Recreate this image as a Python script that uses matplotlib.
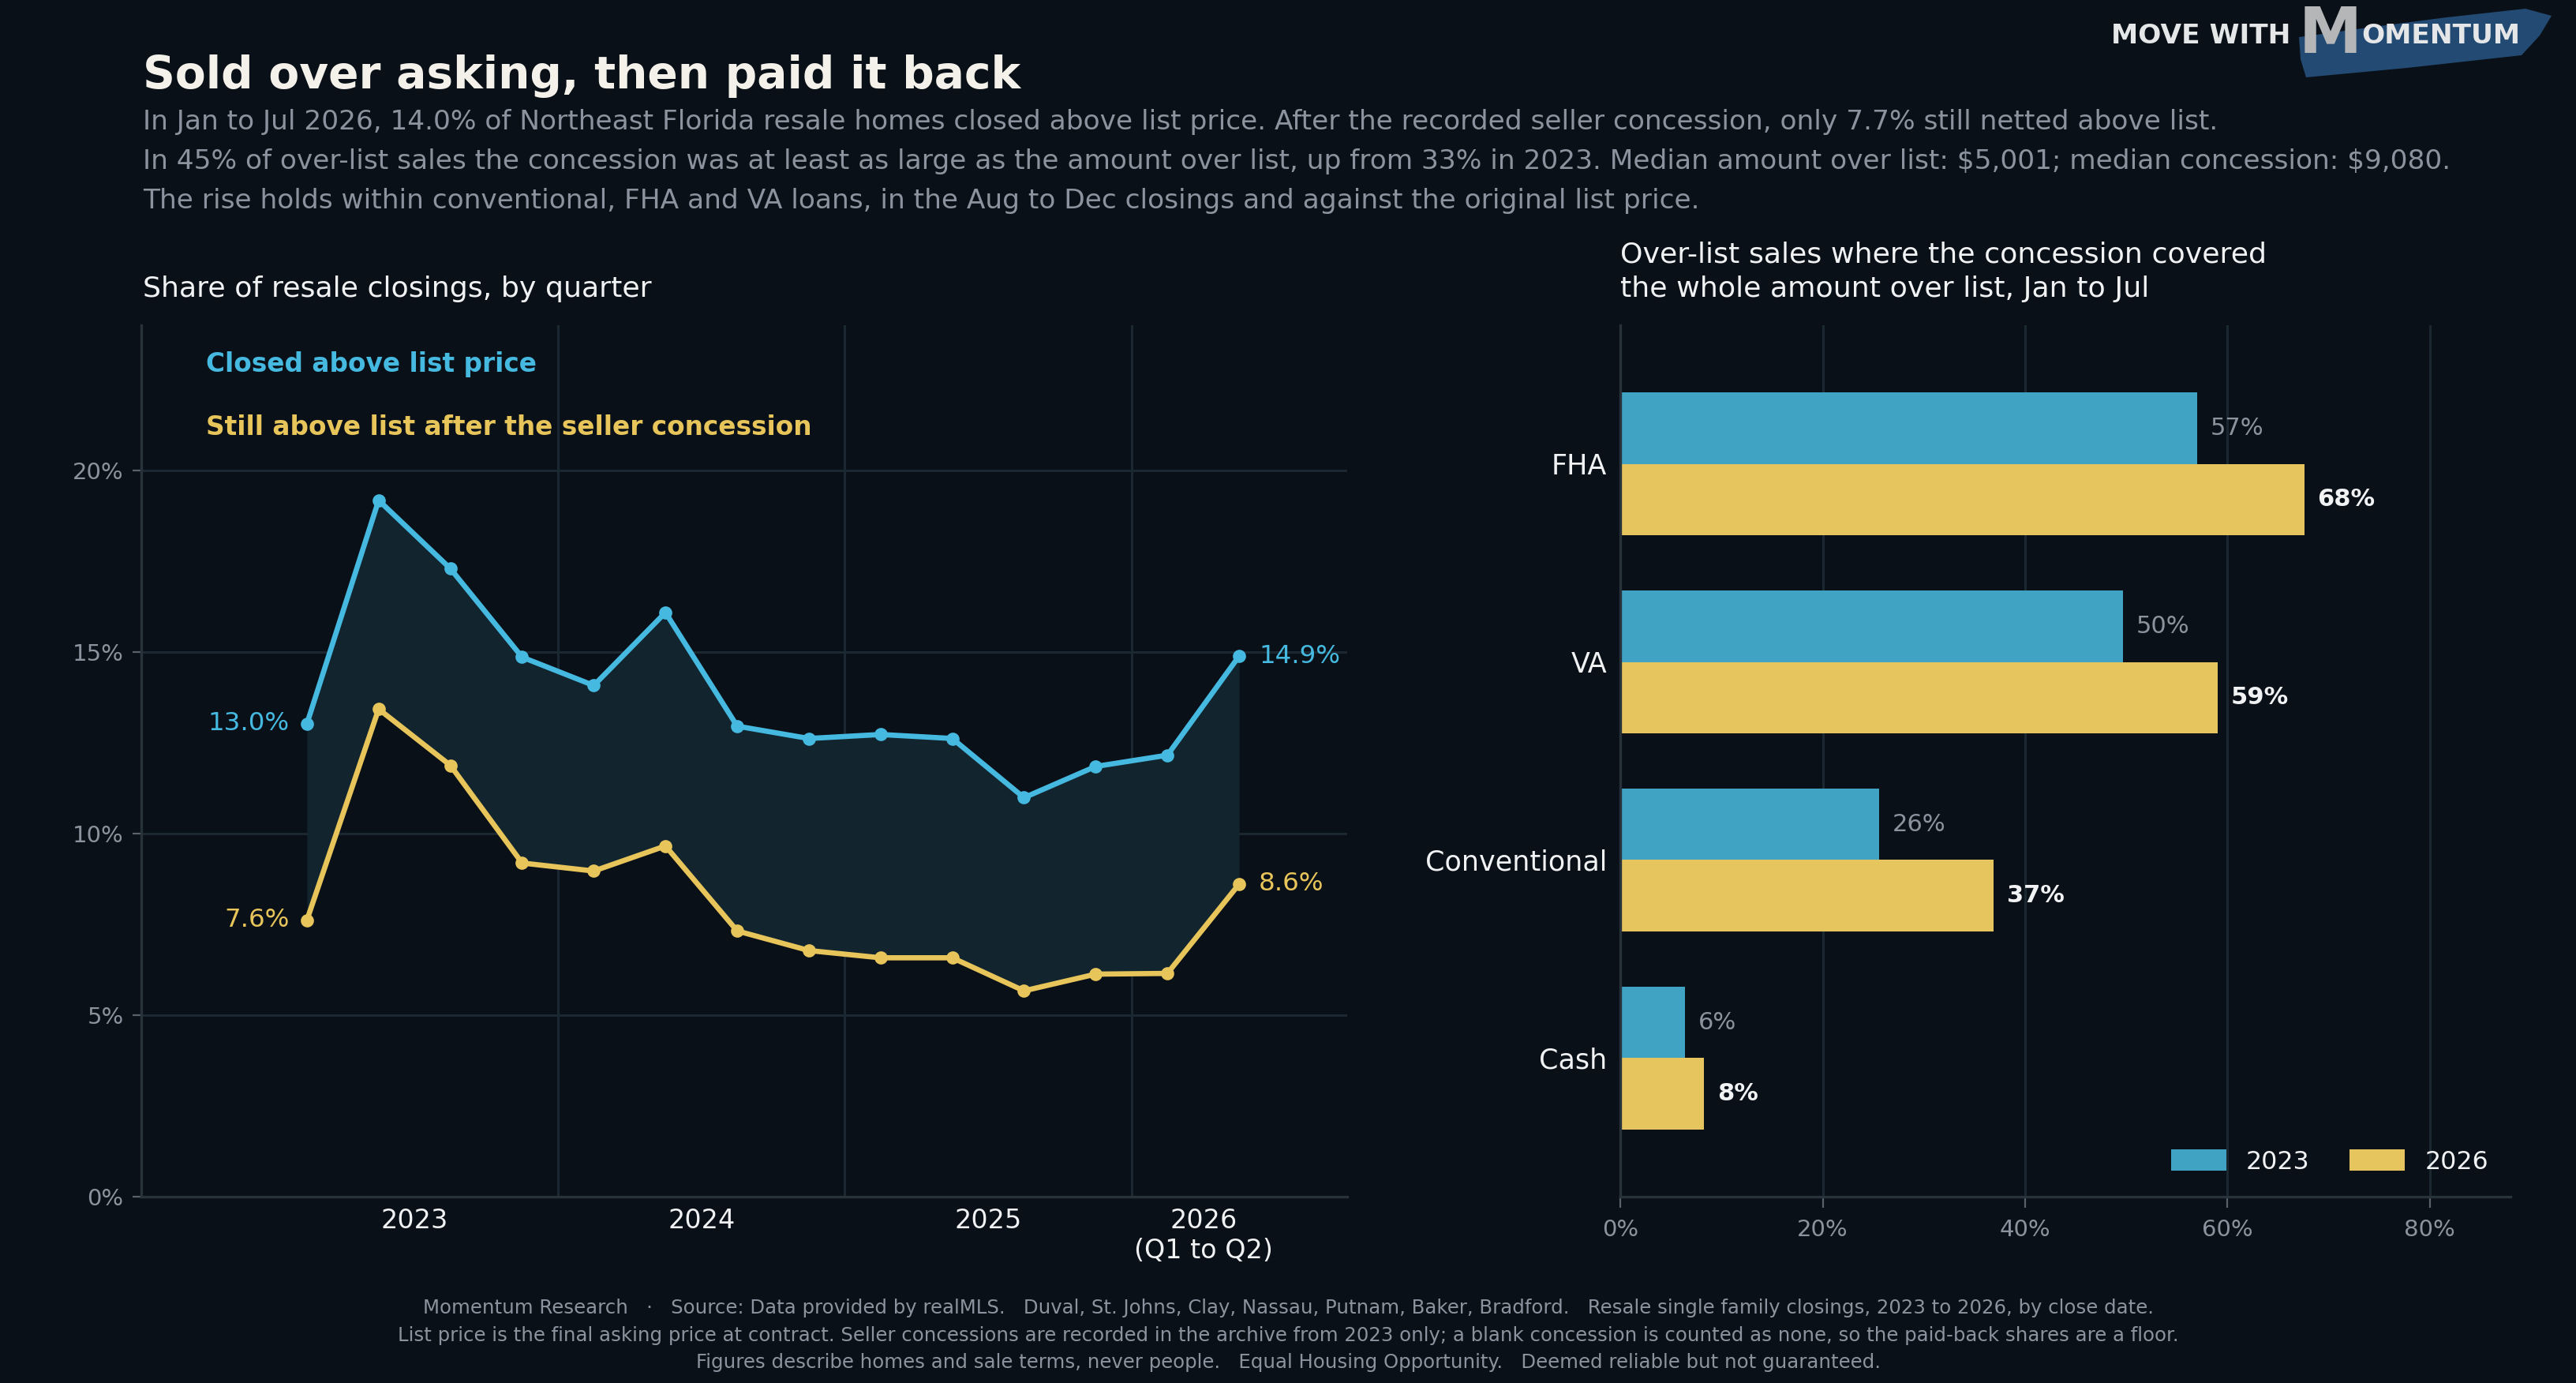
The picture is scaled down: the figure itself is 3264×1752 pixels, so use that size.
# Sold over asking, then paid it back
# Over-list share by quarter + concession coverage by loan type

import matplotlib.pyplot as plt
from matplotlib.patches import Polygon

# quarterly series, 2023 Q1 .. 2026 Q2
quarters = [2023 + (i + 0.5) / 4 for i in range(14)]
above_list = [13.03, 19.18, 17.30, 14.86, 14.08, 16.09, 12.96,
              12.62, 12.73, 12.62, 10.99, 11.85, 12.16, 14.89]
after_concession = [7.62, 13.43, 11.88, 9.19, 8.97, 9.66, 7.32,
                    6.78, 6.58, 6.58, 5.67, 6.13, 6.15, 8.61]
year_ticks = [2023.5, 2024.5, 2025.5, 2026.25]
year_labels = ["2023", "2024", "2025", "2026\n(Q1 to Q2)"]
year_bounds = [2024, 2025, 2026]

# concession covered the whole amount over list, Jan to Jul
loan_types = ["FHA", "VA", "Conventional", "Cash"]
covered_2023 = [57.0, 49.7, 25.6, 6.4]
covered_2026 = [67.6, 59.0, 36.9, 8.3]

BG = "#0a1017"
BLUE = "#45b9e0"
YELLOW = "#e8c55a"
BAR_BLUE = "#41a3c3"
BAR_YELLOW = "#e6c45e"
FILL = "#12252f"
GRID = "#1c2831"
SPINE = "#27323b"
TICK = "#59616a"
GRAY = "#8b949e"
WHITE = "#f0f2f4"
TITLE = "#f3f1ea"

plt.rcParams["font.family"] = ["DejaVu Sans"]

fig = plt.figure(figsize=(16.32, 8.76), dpi=200, facecolor=BG)

# ---- headline
fig.text(0.0555, 0.936, "Sold over asking, then paid it back", color=TITLE,
         fontsize=20.4, fontweight="bold", va="baseline")
subtitle = [
    "In Jan to Jul 2026, 14.0% of Northeast Florida resale homes closed above list price. "
    "After the recorded seller concession, only 7.7% still netted above list.",
    "In 45% of over-list sales the concession was at least as large as the amount over list, "
    "up from 33% in 2023. Median amount over list: \\$5,001; median concession: \\$9,080.",
    "The rise holds within conventional, FHA and VA loans, in the Aug to Dec closings "
    "and against the original list price.",
]
for k, line in enumerate(subtitle):
    fig.text(0.0555, 0.912 - k * 0.0285, line, color=GRAY, fontsize=12.4, va="center")

# ---- logo (top right), brush outline in pixels from the top-left corner
brush_px = [(2913, 47), (3000, 35), (3100, 22), (3200, 11), (3233, 20), (3218, 45),
            (3195, 70), (3050, 86), (2922, 98), (2915, 75)]
brush = Polygon([(x, 1752 - y) for x, y in brush_px], closed=True, transform=None,
                facecolor="#234a72", edgecolor="none")
fig.patches.append(brush)
fig.text(0.8195, 0.9743, "MOVE WITH", color="#e4e6e8", fontsize=12.4,
         fontweight="bold", va="center", ha="left")
fig.text(0.9047, 0.9743, "M", color="#b4b6b8", fontsize=29, fontweight="bold",
         va="center", ha="center")
fig.text(0.9167, 0.9743, "OMENTUM", color="#e4e6e8", fontsize=12.4,
         fontweight="bold", va="center", ha="left")

# ---- left panel: share of resale closings
ax = fig.add_axes([0.0548, 0.1347, 0.4682, 0.6301], facecolor=BG)
ax.fill_between(quarters, after_concession, above_list, color=FILL, lw=0, zorder=1)
ax.plot(quarters, above_list, color=BLUE, lw=2.4, marker="o", ms=5, zorder=3)
ax.plot(quarters, after_concession, color=YELLOW, lw=2.4, marker="o", ms=5, zorder=3)

ax.set_xlim(2022.547, 2026.752)
ax.set_ylim(0, 24)
ax.set_yticks([0, 5, 10, 15, 20])
ax.set_yticklabels([f"{v}%" for v in [0, 5, 10, 15, 20]])
ax.set_xticks(year_ticks)
ax.set_xticklabels(year_labels)
ax.set_xticks(year_bounds, minor=True)
ax.tick_params(axis="x", which="both", length=0, colors=WHITE, labelsize=12, pad=5)
ax.tick_params(axis="y", length=4, color=TICK, labelcolor=GRAY, labelsize=10.5, pad=4)
ax.grid(axis="y", color=GRID, lw=1.1)
ax.grid(axis="x", which="minor", color=GRID, lw=1.1)
ax.set_axisbelow(True)
for side in ["top", "right"]:
    ax.spines[side].set_visible(False)
for side in ["left", "bottom"]:
    ax.spines[side].set_color(SPINE)
    ax.spines[side].set_linewidth(1.2)

ax.text(0.054, 0.955, "Closed above list price", transform=ax.transAxes,
        color=BLUE, fontsize=11.8, fontweight="bold", va="center")
ax.text(0.054, 0.883, "Still above list after the seller concession", transform=ax.transAxes,
        color=YELLOW, fontsize=11.8, fontweight="bold", va="center")

for series, col in [(above_list, BLUE), (after_concession, YELLOW)]:
    ax.annotate(f"{series[0]:.1f}%", (quarters[0], series[0]), xytext=(-8, 0),
                textcoords="offset points", ha="right", va="center", color=col, fontsize=11.7)
    ax.annotate(f"{series[-1]:.1f}%", (quarters[-1], series[-1]), xytext=(9, 0),
                textcoords="offset points", ha="left", va="center", color=col, fontsize=11.7)

fig.text(0.0555, 0.791, "Share of resale closings, by quarter", color=WHITE,
         fontsize=13.1, va="center")

# ---- right panel: concession covered the whole amount
bx = fig.add_axes([0.629, 0.1347, 0.3457, 0.6301], facecolor=BG)
ypos = list(range(len(loan_types)))
h = 0.36
bars23 = bx.barh([y - h / 2 for y in ypos], covered_2023, height=h, color=BAR_BLUE,
                 label="2023", zorder=2)
bars26 = bx.barh([y + h / 2 for y in ypos], covered_2026, height=h, color=BAR_YELLOW,
                 label="2026", zorder=2)
for b, v in zip(bars23, covered_2023):
    bx.annotate(f"{v:.0f}%", (v, b.get_y() + b.get_height() / 2), xytext=(6, 0),
                textcoords="offset points", va="center", color=GRAY, fontsize=11)
for b, v in zip(bars26, covered_2026):
    bx.annotate(f"{v:.0f}%", (v, b.get_y() + b.get_height() / 2), xytext=(6, 0),
                textcoords="offset points", va="center", color=WHITE, fontsize=11,
                fontweight="bold")

bx.set_xlim(0, 88)
bx.set_ylim(3.7, -0.7)
bx.set_yticks(ypos)
bx.set_yticklabels(loan_types)
bx.set_xticks([0, 20, 40, 60, 80])
bx.set_xticklabels([f"{v}%" for v in [0, 20, 40, 60, 80]])
bx.tick_params(axis="y", length=0, labelcolor=WHITE, labelsize=12.6, pad=6)
bx.tick_params(axis="x", length=5, color=TICK, labelcolor=GRAY, labelsize=10.5, pad=5)
bx.grid(axis="x", color=GRID, lw=1.1)
bx.set_axisbelow(True)
for side in ["top", "right"]:
    bx.spines[side].set_visible(False)
for side in ["left", "bottom"]:
    bx.spines[side].set_color(SPINE)
    bx.spines[side].set_linewidth(1.2)

leg = bx.legend(loc="lower right", ncol=2, frameon=False, fontsize=11.4,
                handlelength=2.2, handleheight=0.9, columnspacing=1.6,
                bbox_to_anchor=(1.0, 0.0))
for t in leg.get_texts():
    t.set_color(WHITE)

fig.text(0.629, 0.816, "Over-list sales where the concession covered", color=WHITE,
         fontsize=13.1, va="center")
fig.text(0.629, 0.791, "the whole amount over list, Jan to Jul", color=WHITE,
         fontsize=13.1, va="center")

# ---- footer
footer = [
    "Momentum Research   \u00b7   Source: Data provided by realMLS.   Duval, St. Johns, Clay, "
    "Nassau, Putnam, Baker, Bradford.   Resale single family closings, 2023 to 2026, by close date.",
    "List price is the final asking price at contract. Seller concessions are recorded in the archive "
    "from 2023 only; a blank concession is counted as none, so the paid-back shares are a floor.",
    "Figures describe homes and sale terms, never people.   Equal Housing Opportunity.   "
    "Deemed reliable but not guaranteed.",
]
for k, line in enumerate(footer):
    fig.text(0.5, 0.054 - k * 0.0197, line, color=GRAY, fontsize=8.8, ha="center", va="center")

fig.savefig("out.png", dpi=200, facecolor=BG)
plt.close(fig)
